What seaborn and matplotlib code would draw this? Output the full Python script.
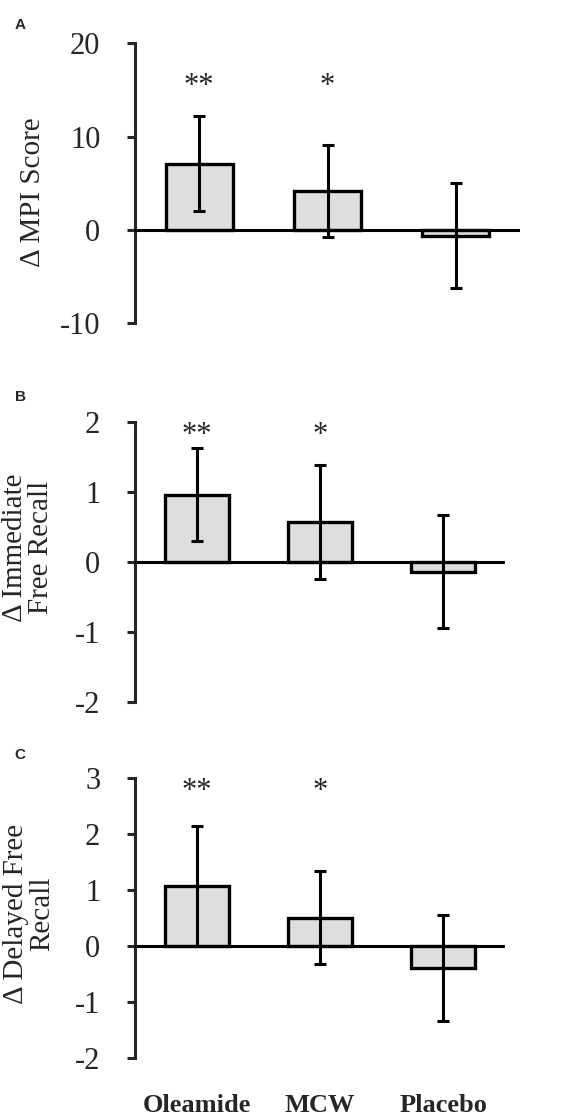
import pandas as pd
import seaborn as sns
import matplotlib.pyplot as plt

groups = ["Oleamide", "MCW", "Placebo"]
stars = ["**", "*", ""]

mpi_mean = [7.1, 4.2, -0.6]
mpi_err = [5.1, 4.9, 5.6]

immediate_mean = [0.96, 0.57, -0.14]
immediate_err = [0.67, 0.81, 0.81]

delayed_mean = [1.07, 0.51, -0.39]
delayed_err = [1.07, 0.83, 0.95]

sns.set_style("white")
plt.rcParams["font.family"] = ["Liberation Serif", "DejaVu Serif"]
plt.rcParams["axes.unicode_minus"] = False

W, H = 570, 1117

panels = [
    dict(letter="A", mean=mpi_mean, err=mpi_err, ylabel="\u0394 MPI Score",
         ylim=(-10, 20), yticks=[-10, 0, 10, 20], star_y=15.4,
         box=(135, 43.3, 520, 323.3), label_xy=(33, 192.5), letter_y=25),
    dict(letter="B", mean=immediate_mean, err=immediate_err,
         ylabel="\u0394 Immediate\nFree Recall",
         ylim=(-2, 2), yticks=[-2, -1, 0, 1, 2], star_y=1.8,
         box=(135, 421.7, 505, 701.7), label_xy=(28, 547.5), letter_y=397),
    dict(letter="C", mean=delayed_mean, err=delayed_err,
         ylabel="\u0394 Delayed Free\nRecall",
         ylim=(-2, 3), yticks=[-2, -1, 0, 1, 2, 3], star_y=2.76,
         box=(135, 778.3, 505, 1058.3), label_xy=(29, 914), letter_y=755),
]

fig = plt.figure(figsize=(W / 100, H / 100), dpi=100)

for i, p in enumerate(panels):
    x0, y0, x1, y1 = p["box"]
    ax = fig.add_axes([x0 / W, 1 - y1 / H, (x1 - x0) / W, (y1 - y0) / H])
    df = pd.DataFrame({"group": groups, "value": p["mean"]})
    sns.barplot(data=df, x="group", y="value", ax=ax, color="#dedede",
                saturation=1, width=0.52, edgecolor="black", linewidth=2.4,
                errorbar=None)
    ax.errorbar(range(len(groups)), p["mean"], yerr=p["err"], fmt="none",
                ecolor="black", elinewidth=2.2, capsize=4, capthick=2.2, zorder=4)
    ax.axhline(0, color="black", lw=2.2, zorder=5)

    for j, s in enumerate(stars):
        ax.text(j, p["star_y"], s, ha="center", va="center", fontsize=22)

    ax.set_xlim(-0.5, 2.5)
    ax.set_ylim(*p["ylim"])
    ax.set_yticks(p["yticks"])
    ax.set_xlabel("")
    ax.set_ylabel("")
    for side in ["top", "right", "bottom"]:
        ax.spines[side].set_visible(False)
    ax.spines["left"].set_linewidth(2.2)
    ax.tick_params(axis="y", direction="out", left=True, length=6, width=2.2,
                   labelsize=22, pad=19)
    ax.tick_params(axis="x", length=0, pad=26)
    if i == len(panels) - 1:
        ax.set_xticks(range(len(groups)))
        ax.set_xticklabels(groups, fontsize=19, fontweight="bold")
    else:
        ax.set_xticklabels([])

    lx, ly = p["label_xy"]
    fig.text(lx / W, 1 - ly / H, p["ylabel"], rotation=90, ha="center",
             va="center", fontsize=21, linespacing=1.0)
    fig.text(20 / W, 1 - p["letter_y"] / H, p["letter"], ha="center",
             va="center", fontsize=11, fontweight="bold",
             family=["Liberation Sans", "DejaVu Sans"])

fig.savefig("out.png", dpi=100)
